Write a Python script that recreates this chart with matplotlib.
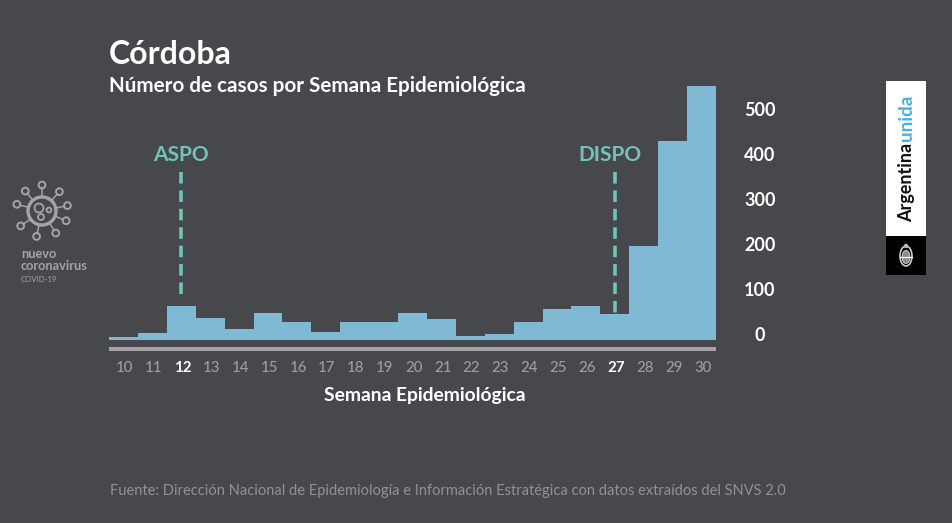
import numpy as np
import matplotlib
matplotlib.use("Agg")
import matplotlib.pyplot as plt
from matplotlib.patches import Circle, Rectangle, Ellipse
from matplotlib.transforms import ScaledTranslation

weeks = list(range(10, 31))
cases = [6, 16, 75, 48, 25, 60, 40, 18, 40, 40, 60, 47, 9, 13, 40, 68, 76, 58, 209, 442, 564]
y_ticks = [0, 100, 200, 300, 400, 500]
highlight_weeks = [12, 27]
events = ["ASPO", "DISPO"]
event_weeks = [12, 27]
event_line_low = [92, 60]
event_line_high = 373

W, H = 953, 523
BG = "#47484c"
BAR = "#7fb9d3"
TEAL = "#6ec6b6"
GRAY = "#9c9da0"
FONT = ["Lato", "DejaVu Sans"]
plt.rcParams["font.family"] = FONT

fig = plt.figure(figsize=(W / 100, H / 100), dpi=100, facecolor=BG)

def px_axes(x0, y0, x1, y1):
    return fig.add_axes([x0 / W, 1 - y1 / H, (x1 - x0) / W, (y1 - y0) / H])

ov = px_axes(0, 0, W, H)
ov.set_xlim(0, W)
ov.set_ylim(H, 0)
ov.axis("off")

ov.text(109, 55, "Córdoba", color="white", fontsize=23, fontweight="bold", va="center", ha="left")
ov.text(109, 85.5, "Número de casos por Semana Epidemiológica", color="white", fontsize=14.9,
        fontweight="bold", va="center", ha="left")
ov.text(425, 395, "Semana Epidemiológica", color="white", fontsize=13.85, fontweight="bold",
        va="center", ha="center")
ov.text(110, 491, "Fuente: Dirección Nacional de Epidemiología e Información Estratégica con datos extraídos del SNVS 2.0",
        color="#919295", fontsize=10.55, va="center", ha="left")
ov.add_patch(Rectangle((109, 347), 607, 4, color="#a79fa6", lw=0))

# Virus icon
ICON = "#a3a4a6"
cx, cy = 42, 211
ov.add_patch(Circle((cx, cy), 14, fill=False, ec=ICON, lw=2.4))
for dx, dy, r in [(-3, -3, 4.5), (-1, 6, 3), (7, -1, 2.4)]:
    ov.add_patch(Circle((cx + dx, cy + dy), r, fill=False, ec=ICON, lw=1.3))
for a in np.deg2rad([90, 48, 12, -22, -58, -102, -145, 165, 130]):
    ux, uy = np.cos(a), -np.sin(a)
    ov.plot([cx + 14 * ux, cx + 23 * ux], [cy + 14 * uy, cy + 23 * uy], color=ICON, lw=1.1)
    ov.add_patch(Circle((cx + 26 * ux, cy + 26 * uy), 3.4, fill=False, ec=ICON, lw=1.4))
ov.text(21, 254, "nuevo", color=ICON, fontsize=9.2, fontweight="bold", va="center")
ov.text(21, 266, "coronavirus", color=ICON, fontsize=9.2, fontweight="bold", va="center")
ov.text(21, 279, "COVID-19", color=ICON, fontsize=5.6, va="center")

# Argentina unida banner
ov.add_patch(Rectangle((886, 80.5), 40, 155.5, color="white", lw=0))
ov.add_patch(Rectangle((886, 236), 40, 39, color="black", lw=0))
ov.text(906.5, 222.5, "Argentina", color="#111111", fontsize=13, fontweight="bold", rotation=90,
        va="bottom", ha="center")
ov.text(906.5, 141, "unida", color="#45b4dc", fontsize=13.6, fontweight="bold", rotation=90,
        va="bottom", ha="center")
ov.add_patch(Ellipse((906, 256), 12, 20, fc="none", ec="#c9c9c9", lw=1.2))
ov.add_patch(Ellipse((906, 257), 8, 13, fc="#8d8d8d", ec="#dddddd", lw=0.6))
ov.plot([900, 912], [257, 257], color="white", lw=0.9)
ov.add_patch(Circle((906, 246), 2.2, fc="#bdbdbd", ec="none"))

# Main histogram axes: baseline at y=340, 45 px per 100 cases
ax = px_axes(109, 80, 716, 340)
ax.set_facecolor("none")
ax.bar(weeks, cases, width=1.0, color=BAR, linewidth=0, zorder=2)
ax.set_xlim(9.5, 30.5)
ax.set_ylim(0, 260 / 0.45)
for s in ax.spines.values():
    s.set_visible(False)

ax.set_xticks(weeks)
ax.set_xticklabels([str(w) for w in weeks])
ax.tick_params(axis="x", length=0, pad=15, labelsize=10.8, labelcolor=GRAY)
for lab, w in zip(ax.get_xticklabels(), weeks):
    lab.set_transform(lab.get_transform() + ScaledTranslation(0.012, 0, fig.dpi_scale_trans))
    lab.set_fontweight("medium")
    if w in highlight_weeks:
        lab.set_color("white")
        lab.set_fontweight("bold")

ax.yaxis.tick_right()
ax.set_yticks(y_ticks)
ax.tick_params(axis="y", length=0, pad=31.5, labelsize=13, labelcolor="white")
for lab in ax.get_yticklabels():
    lab.set_ha("center")
    lab.set_fontweight("bold")
    lab.set_transform(lab.get_transform() + ScaledTranslation(0, 0.06, fig.dpi_scale_trans))

for name, wk, low in zip(events, event_weeks, event_line_low):
    ax.plot([wk, wk], [event_line_high, low], color=TEAL, lw=2.6, dashes=(3.2, 1.9), zorder=3)
ax.annotate(events[0], (event_weeks[0], event_line_high), xytext=(0, 12.3), textcoords="offset points",
            color=TEAL, fontsize=15, fontweight="bold", ha="center", va="center", annotation_clip=False)
ax.annotate(events[1], (event_weeks[1], event_line_high), xytext=(-3.5, 12.3), textcoords="offset points",
            color=TEAL, fontsize=15, fontweight="bold", ha="center", va="center", annotation_clip=False)

fig.savefig("out.png", dpi=100, facecolor=BG)
